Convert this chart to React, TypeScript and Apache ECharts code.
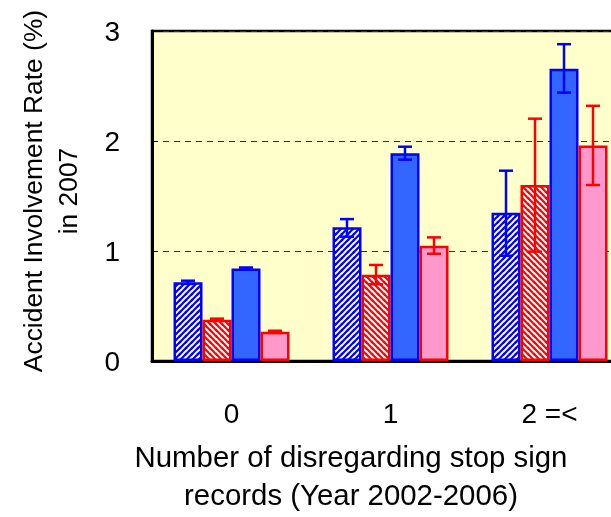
import React, { useEffect, useRef } from "react";
import * as echarts from "echarts";

const categories = ["0", "1", "2 =<"];
const seriesNames = ["Hatched blue", "Hatched red", "Solid blue", "Solid pink"];
const hatchedBlue = [0.715, 1.215, 1.348];
const hatchedRed = [0.375, 0.785, 1.6];
const solidBlue = [0.84, 1.888, 2.657];
const solidPink = [0.265, 1.048, 1.96];
const hatchedBlueErr = [[0.7, 0.73], [1.13, 1.29], [0.957, 1.73]];
const hatchedRedErr = [[0.365, 0.385], [0.697, 0.873], [0.994, 2.203]];
const solidBlueErr = [[0.83, 0.85], [1.83, 1.948], [2.44, 2.88]];
const solidPinkErr = [[0.255, 0.275], [0.975, 1.124], [1.6, 2.32]];
const yTicks = [0, 1, 2, 3];

function makeHatch(color: string, dir: "/" | "\\") {
  const c = document.createElement("canvas");
  const s = 6;
  c.width = s;
  c.height = s;
  const ctx = c.getContext("2d")!;
  ctx.fillStyle = "#ffffff";
  ctx.fillRect(0, 0, s, s);
  ctx.strokeStyle = color;
  ctx.lineWidth = 2.2;
  const segs =
    dir === "/"
      ? [[-s, s, s, -s], [0, s, s, 0], [0, 2 * s, 2 * s, 0], [-s / 2, s / 2, s / 2, -s / 2], [s / 2, 1.5 * s, 1.5 * s, s / 2]]
      : [[0, 0, s, s], [-s, 0, s, 2 * s], [0, -s, 2 * s, s], [-s / 2, s / 2, s / 2, 1.5 * s], [s / 2, -s / 2, 1.5 * s, s / 2]];
  segs.forEach(([x1, y1, x2, y2]) => {
    ctx.beginPath();
    ctx.moveTo(x1, y1);
    ctx.lineTo(x2, y2);
    ctx.stroke();
  });
  return c;
}

export default function App() {
  const ref = useRef<HTMLDivElement>(null);
  useEffect(() => {
    if (!ref.current) return;
    const chart = echarts.init(ref.current, undefined, { renderer: "svg" });
    const font = "Liberation Sans, Arial, sans-serif";
    const barW = 29;
    const values = [hatchedBlue, hatchedRed, solidBlue, solidPink];
    const errs = [hatchedBlueErr, hatchedRedErr, solidBlueErr, solidPinkErr];
    const fills: any[] = [
      { image: makeHatch("#0000ff", "/"), repeat: "repeat" },
      { image: makeHatch("#ff0000", "\\"), repeat: "repeat" },
      "#3366ff",
      "#ff99cc",
    ];
    const borders = ["#0000ff", "#ff0000", "#0000ff", "#ff0000"];

    const barSeries = values.map((v, i) => ({
      name: seriesNames[i],
      type: "bar",
      data: v,
      barWidth: barW,
      barGap: "0%",
      itemStyle: { color: fills[i], borderColor: borders[i], borderWidth: 2.5 },
      z: 2,
    }));

    const errSeries = errs.map((e, i) => ({
      type: "custom",
      name: seriesNames[i] + " error",
      z: 5,
      data: e.map((r, k) => [k, r[0], r[1]]),
      renderItem: (params: any, api: any) => {
        const k = api.value(0);
        const lo = api.coord([k, api.value(1)]);
        const hi = api.coord([k, api.value(2)]);
        const x = lo[0] + (i - 1.5) * barW;
        const cap = 7;
        const style = { stroke: borders[i], lineWidth: 2.5 };
        return {
          type: "group",
          children: [
            { type: "line", shape: { x1: x, y1: lo[1], x2: x, y2: hi[1] }, style },
            { type: "line", shape: { x1: x - cap, y1: lo[1], x2: x + cap, y2: lo[1] }, style },
            { type: "line", shape: { x1: x - cap, y1: hi[1], x2: x + cap, y2: hi[1] }, style },
          ],
        };
      },
    }));

    chart.setOption({
      animation: false,
      textStyle: { fontFamily: font },
      grid: {
        left: 152,
        top: 31,
        right: -18,
        bottom: 156,
        containLabel: false,
        outerBoundsMode: "none",
        show: true,
        backgroundColor: "#ffffcc",
        borderColor: "#000000",
        borderWidth: 2.5,
      },
      xAxis: {
        type: "category",
        data: categories,
        axisLine: { lineStyle: { color: "#000000", width: 3 } },
        axisTick: { inside: true, length: 10, lineStyle: { color: "#000000", width: 1 } },
        axisLabel: { fontSize: 28, color: "#000000", margin: 38, fontFamily: font },
      },
      yAxis: {
        type: "value",
        min: 0,
        max: 3,
        interval: 1,
        axisLine: { show: true, lineStyle: { color: "#000000", width: 3 } },
        axisTick: { show: true, inside: true, length: 6, lineStyle: { color: "#000000" } },
        axisLabel: {
          fontSize: 28,
          color: "#000000",
          margin: 32,
          fontFamily: font,
          formatter: (v: number) => (yTicks.includes(v) ? String(v) : ""),
        },
        splitLine: { show: true, lineStyle: { color: "#333333", type: [6, 5], width: 1 } },
      },
      graphic: [
        {
          type: "text",
          x: 50,
          y: 191,
          rotation: Math.PI / 2,
          style: {
            text: "Accident Involvement Rate (%)\nin 2007",
            font: `26.4px ${font}`,
            fill: "#000000",
            align: "center",
            verticalAlign: "middle",
            lineHeight: 35,
          },
        },
        {
          type: "text",
          x: 351,
          y: 475,
          style: {
            text: "Number of disregarding stop sign\nrecords (Year 2002-2006)",
            font: `29.4px ${font}`,
            fill: "#000000",
            align: "center",
            verticalAlign: "middle",
            lineHeight: 38,
          },
        },
      ],
      series: [...barSeries, ...errSeries],
    });
    return () => chart.dispose();
  }, []);
  return (
    <div
      ref={ref}
      style={{ position: "fixed", left: 0, top: 0, width: 611, height: 517, overflow: "hidden" }}
    />
  );
}
